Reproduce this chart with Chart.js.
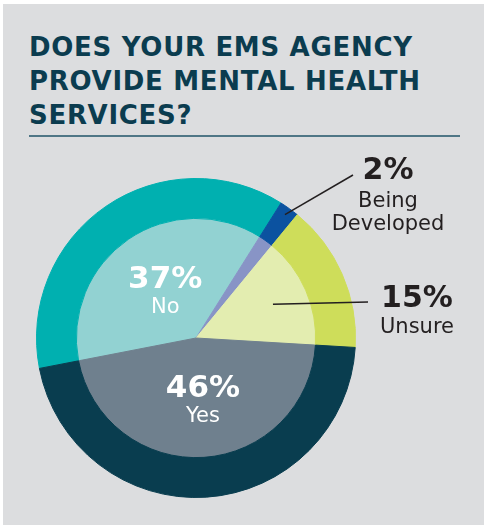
<!DOCTYPE html>
<html>
<head>
<meta charset="utf-8">
<script src="https://cdn.jsdelivr.net/npm/chart.js@4"></script>
<style>
  html, body { margin: 0; padding: 0; background: #ffffff; }
  #panel { position: absolute; left: 3px; top: 4px; width: 481px; height: 521px; background: #dcdddf; }
  .title { position: absolute; left: 29px; font-family: "DejaVu Sans", sans-serif; font-weight: bold;
           font-size: 26px; line-height: 34px; color: #0b3c4f; white-space: nowrap; letter-spacing: 0.7px; }
  #rule { position: absolute; left: 29px; top: 135px; width: 431px; height: 2px; background: #4f7686; }
  #wrap { position: absolute; left: 0; top: 0; width: 484px; height: 525px; }
</style>
</head>
<body>
<div id="panel"></div>
<div class="title" style="top:30px">DOES YOUR EMS AGENCY</div>
<div class="title" style="top:64px">PROVIDE MENTAL HEALTH</div>
<div class="title" style="top:98px">SERVICES?</div>
<div id="rule"></div>
<div id="wrap"><canvas id="pie"></canvas></div>
<script>
// --- data (clockwise from the No/Yes boundary) ---
const categories = ['No', 'Being Developed', 'Unsure', 'Yes'];
const labelLines = [['No'], ['Being', 'Developed'], ['Unsure'], ['Yes']];
const shares = [37, 2, 15, 46];

// --- colours ---
const outerColors = ['#00b0b0', '#0b52a0', '#cedd5a', '#093d4f'];
const innerColors = ['#92d2d2', '#8894c6', '#e3edb0', '#6f808e'];

// inside labels (white) vs callouts with leader lines
const insideLabels = ['No', 'Yes'];
// callout: leader start radius (px from centre), leader end + text offsets from centre
const callouts = {
    'Being Developed': { r0: 152, end: [157, -163], tx: 192, pctY: -159, lineY: [-131, -108] },
    'Unsure':          { r0: 84,  end: [172, -36],  tx: 221, pctY: -31,  lineY: [-5] }
};

const labelPlugin = {
    id: 'pieLabels',
    afterDatasetsDraw(chart) {
        const ctx = chart.ctx;
        const inner = chart.getDatasetMeta(1).data;
        ctx.save();
        categories.forEach((cat, i) => {
            const arc = inner[i];
            const mid = (arc.startAngle + arc.endAngle) / 2;
            const cx = arc.x, cy = arc.y;
            ctx.textAlign = 'center';
            ctx.textBaseline = 'alphabetic';
            if (insideLabels.includes(cat)) {
                const r = arc.outerRadius * 0.5;
                const ax = cx + Math.cos(mid) * r + 3, ay = cy + Math.sin(mid) * r;
                ctx.fillStyle = '#ffffff';
                ctx.font = 'bold 31px "DejaVu Sans"';
                ctx.fillText(shares[i] + '%', ax, ay - 1);
                ctx.font = '21px "DejaVu Sans"';
                ctx.fillText(labelLines[i][0], ax, ay + 24);
            } else if (callouts[cat]) {
                const c = callouts[cat];
                ctx.strokeStyle = '#231f20';
                ctx.lineWidth = 1.5;
                ctx.beginPath();
                ctx.moveTo(cx + Math.cos(mid) * c.r0, cy + Math.sin(mid) * c.r0);
                ctx.lineTo(cx + c.end[0], cy + c.end[1]);
                ctx.stroke();
                ctx.fillStyle = '#231f20';
                ctx.font = 'bold 30px "DejaVu Sans"';
                ctx.fillText(shares[i] + '%', cx + c.tx, cy + c.pctY);
                ctx.font = '21px "DejaVu Sans"';
                labelLines[i].forEach((t, k) => ctx.fillText(t, cx + c.tx, cy + c.lineY[k]));
            }
        });
        ctx.restore();
    }
};

new Chart(document.getElementById('pie'), {
    type: 'doughnut',
    data: {
        labels: categories,
        datasets: [
            { data: shares, backgroundColor: outerColors, borderColor: outerColors, borderWidth: 1, weight: 40 },
            { data: shares, backgroundColor: innerColors, borderColor: innerColors, borderWidth: 1, weight: 120 }
        ]
    },
    options: {
        responsive: true, maintainAspectRatio: false, animation: false,
        cutout: 0, rotation: 259,
        layout: { padding: { left: 36, top: 178, right: 128, bottom: 27 } },
        plugins: { legend: { display: false }, tooltip: { enabled: false } },
        events: []
    },
    plugins: [labelPlugin]
});
</script>
</body>
</html>
